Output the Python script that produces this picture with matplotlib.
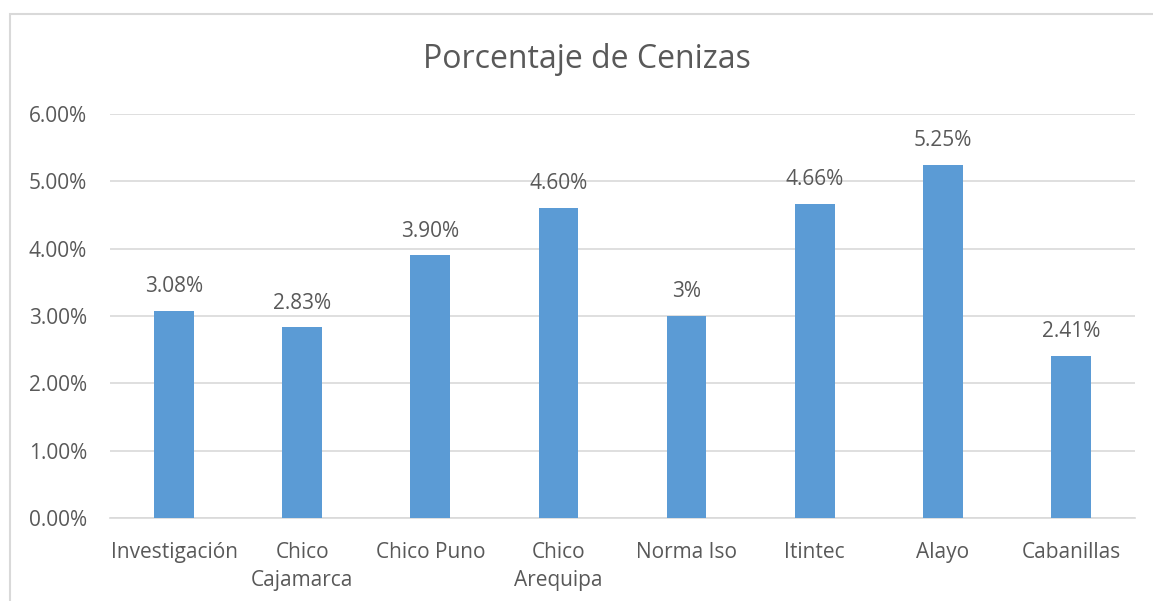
import matplotlib.pyplot as plt
from matplotlib.patches import Rectangle
from matplotlib.ticker import FuncFormatter

categorias = ["Investigación", "Chico\nCajamarca", "Chico Puno", "Chico\nArequipa",
              "Norma Iso", "Itintec", "Alayo", "Cabanillas"]
valores = [3.08, 2.83, 3.90, 4.60, 3.00, 4.66, 5.25, 2.41]
etiquetas = ["3.08%", "2.83%", "3.90%", "4.60%", "3%", "4.66%", "5.25%", "2.41%"]

plt.rcParams['font.family'] = ['Open Sans', 'DejaVu Sans']
gris = '#595959'

fig = plt.figure(figsize=(11.53, 6.01), dpi=100)
ax = fig.add_axes([110 / 1153, 1 - 518 / 601, 1025 / 1153, 404 / 601])

x = range(len(categorias))
ax.bar(x, valores, width=0.31, color='#5B9BD5', zorder=3)
for i, v in enumerate(valores):
    ax.annotate(etiquetas[i], (i, v), xytext=(0, 10), textcoords='offset points',
                ha='center', va='bottom', fontsize=15, color=gris)

ax.set_xlim(-0.5, len(categorias) - 0.5)
ax.set_ylim(0, 6)
ax.set_yticks([0, 1, 2, 3, 4, 5, 6])
ax.yaxis.set_major_formatter(FuncFormatter(lambda v, p: f"{v:.2f}%"))
ax.set_xticks(list(x))
ax.set_xticklabels(categorias, fontsize=15, color=gris, linespacing=1.45, va='top')
ax.tick_params(axis='y', labelsize=15, labelcolor=gris, length=0, pad=16.5)
ax.tick_params(axis='x', length=0, pad=17)
ax.grid(axis='y', color='#D9D9D9', linewidth=1.2, zorder=0)
for s in ['top', 'right', 'left']:
    ax.spines[s].set_visible(False)
ax.spines['bottom'].set_color('#D9D9D9')
ax.spines['bottom'].set_linewidth(1.2)

fig.text(587 / 1153, 1 - 60 / 601, "Porcentaje de Cenizas", ha='center', va='center',
         fontsize=23, color=gris)

fig.patches.append(Rectangle((10 / 1153, -0.1), 1.2, 1.1 - 14 / 601, transform=fig.transFigure,
                             fill=False, edgecolor='#D9D9D9', linewidth=1.5))

fig.savefig('out.png', dpi=100)
